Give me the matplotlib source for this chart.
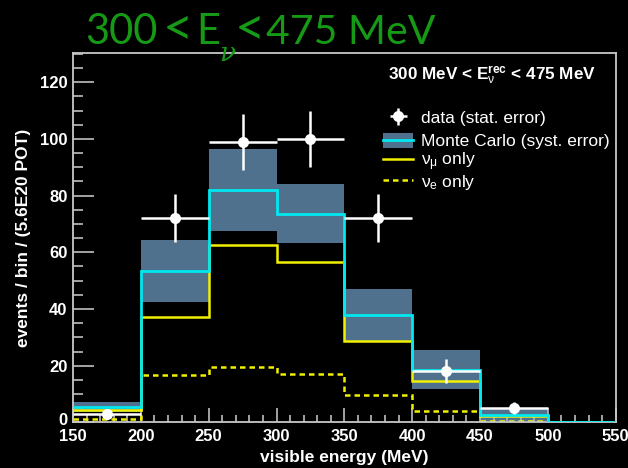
import matplotlib
matplotlib.use("Agg")
import matplotlib.pyplot as plt
import matplotlib.transforms as mtrans
from matplotlib.lines import Line2D
from matplotlib.patches import Patch
from matplotlib.ticker import MultipleLocator
import numpy as np

# ---- data ----
bin_edges = [150, 200, 250, 300, 350, 400, 450, 500, 550]
data_x = [175, 225, 275, 325, 375, 425, 475]
data_y = [3, 72, 99, 100, 72, 18, 5]
data_err = [1.7, 8.5, 9.9, 10.0, 8.5, 4.2, 2.2]
data_xerr = [25, 25, 25, 25, 25, 25, 25]
mc = [5.3, 53.5, 82.0, 73.5, 37.9, 18.5, 2.6, 0]
mc_lo = [3.5, 42.6, 67.6, 63.2, 28.5, 11.7, 0.4, 0]
mc_hi = [7.3, 64.4, 96.4, 84.0, 47.1, 25.4, 5.0, 0]
numu_only = [4.4, 37.3, 62.6, 56.6, 28.7, 14.7, 2.3, 0]
nue_only = [1.2, 16.6, 19.6, 17.2, 9.6, 3.9, 0.6, 0]

x_ticks = [150, 200, 250, 300, 350, 400, 450, 500, 550]
y_ticks = [0, 20, 40, 60, 80, 100, 120]

plt.rcParams['font.family'] = ['Liberation Sans', 'DejaVu Sans']
plt.rcParams['mathtext.fontset'] = 'custom'
plt.rcParams['mathtext.rm'] = 'Liberation Sans'
plt.rcParams['mathtext.it'] = 'Liberation Sans'
plt.rcParams['mathtext.bf'] = 'Liberation Sans:bold'

W, H = 628, 468
fig = plt.figure(figsize=(W / 100, H / 100), dpi=100, facecolor='black')
x0, x1, y0, y1 = 73.0, 615.7, 53.3, 422.4
ax = fig.add_axes([x0 / W, 1 - y1 / H, (x1 - x0) / W, (y1 - y0) / H])
ax.set_facecolor('black')

band_col = '#50718e'
cyan = '#00e8f0'
yellow = '#f0f000'

ax.stairs(mc_hi, bin_edges, baseline=mc_lo, fill=True, color=band_col, lw=0, zorder=1)
ax.stairs(nue_only, bin_edges, baseline=None, color=yellow, lw=1.8, ls=(0, (2.2, 1.6)), zorder=2)
ax.stairs(numu_only, bin_edges, baseline=None, color=yellow, lw=1.8, zorder=3)
ax.stairs(mc, bin_edges, baseline=None, color=cyan, lw=2.0, zorder=4)
eb = ax.errorbar(data_x, data_y, yerr=data_err, xerr=data_xerr, fmt='o', color='white',
                 ms=7, elinewidth=1.8, capsize=0, zorder=5)

ax.set_xlim(150, 550)
ax.set_ylim(0, 130.2)
ax.set_xticks(x_ticks)
ax.set_yticks(y_ticks)
ax.xaxis.set_minor_locator(MultipleLocator(10))
ax.yaxis.set_minor_locator(MultipleLocator(5))
ax.tick_params(axis='both', which='both', direction='in', colors='#b0b0b0', width=1.3)
ax.tick_params(axis='x', which='major', length=10, pad=5)
ax.tick_params(axis='x', which='minor', length=5)
ax.tick_params(axis='y', which='major', length=15, pad=4)
ax.tick_params(axis='y', which='minor', length=7)
for lab in ax.get_xticklabels() + ax.get_yticklabels():
    lab.set_color('white')
    lab.set_fontweight('bold')
    lab.set_fontsize(12)
# lift the "0" label slightly, as in the reference
ylabs = ax.get_yticklabels()
ylabs[0].set_transform(ylabs[0].get_transform() +
                       mtrans.ScaledTranslation(0, 3 / 100, fig.dpi_scale_trans))
for s in ax.spines.values():
    s.set_color('#c8c8c8')
    s.set_linewidth(1.3)

ax.set_xlabel('visible energy (MeV)', color='white', fontweight='bold', fontsize=12.5, labelpad=4)
ax.set_ylabel('events / bin / (5.6E20 POT)', color='white', fontweight='bold', fontsize=12.5, labelpad=6)

# legend header
fig.text(388 / W, 1 - 79 / H, r'300 MeV < E$_{\nu}^{\mathbf{rec}}$ < 475 MeV',
         color='white', fontweight='bold', fontsize=12.3, ha='left', va='baseline')

handles = [
    eb,
    (Patch(facecolor=band_col, edgecolor='none'), Line2D([], [], color=cyan, lw=2)),
    Line2D([], [], color=yellow, lw=1.8),
    Line2D([], [], color=yellow, lw=1.8, ls=(0, (2.2, 1.6))),
]
labels = ['data (stat. error)', 'Monte Carlo (syst. error)', r'$\nu_{\mu}$ only', r'$\nu_{e}$ only']
row_y = [117.7, 141, 162, 182]
for h, l, yy in zip(handles, labels, row_y):
    fig.legend([h], [l], loc='center left', bbox_to_anchor=(383 / W, 1 - yy / H),
               frameon=False, fontsize=12.5, labelcolor='white', handlelength=1.75,
               handletextpad=0.45, handleheight=0.95, borderpad=0, borderaxespad=0)

# big green title
green = '#169a16'
tfam = ['Lato', 'DejaVu Sans']
tsize = 30
fig.text(85 / W, 1 - 44 / H, '300', color=green, fontsize=tsize, family=tfam,
         ha='left', va='baseline')
fig.text(163 / W, 1 - 45.5 / H, '<', color=green, fontsize=38, family=tfam,
         ha='left', va='baseline')
fig.text(196 / W, 1 - 44 / H, 'E', color=green, fontsize=tsize, family=tfam,
         ha='left', va='baseline')
fig.text(219 / W, 1 - 61 / H, '\u03bd', color=green, fontsize=19, family=['DejaVu Serif'],
         style='italic', ha='left', va='baseline')
fig.text(235 / W, 1 - 45.5 / H, '<', color=green, fontsize=38, family=tfam,
         ha='left', va='baseline')
fig.text(266 / W, 1 - 44 / H, '475 MeV', color=green, fontsize=29.5, family=tfam,
         ha='left', va='baseline')

fig.savefig('out.png', dpi=100, facecolor='black')
